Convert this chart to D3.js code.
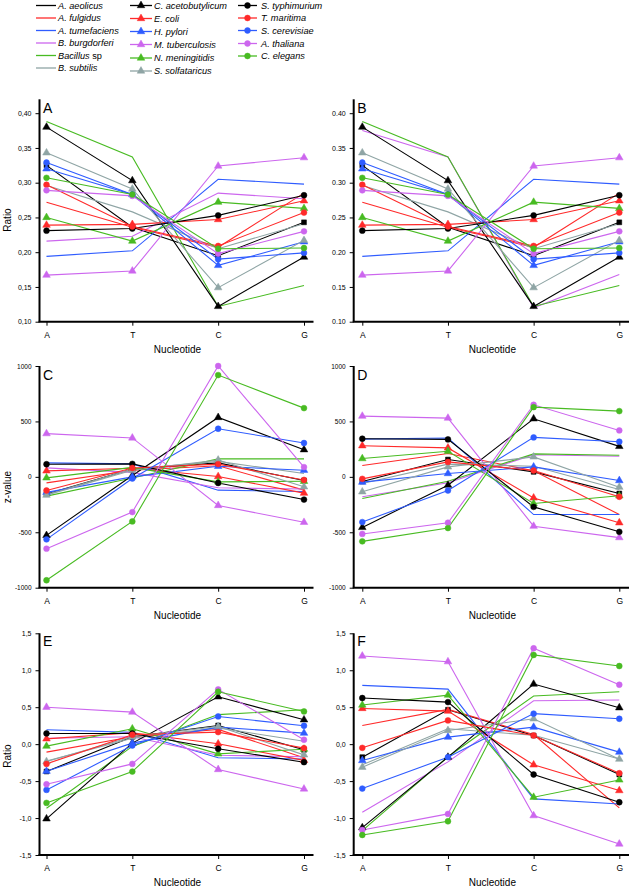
<!DOCTYPE html>
<html><head><meta charset="utf-8">
<script src="https://cdn.jsdelivr.net/npm/d3@7"></script>
<style>
body{margin:0;background:#fff}
text{font-family:"Liberation Sans",Arial,Helvetica,sans-serif;fill:#000}
</style>
</head><body>
<svg id="chart" width="629" height="887"></svg>
<script>
// ---------------- data ----------------
const nucleotides = ["A", "T", "C", "G"];
const species = ["A. aeolicus","A. fulgidus","A. tumefaciens","B. burgdorferi","Bacillus sp","B. subtilis",
  "C. acetobutylicum","E. coli","H. pylori","M. tuberculosis","N. meningitidis","S. solfataricus",
  "S. typhimurium","T. maritima","S. cerevisiae","A. thaliana","C. elegans"];

// values per species, order A, T, C, G
const panelA = [
  [0.325,0.236,0.195,0.243],[0.272,0.236,0.207,0.285],[0.194,0.202,0.305,0.298],[0.216,0.223,0.285,0.277],
  [0.388,0.337,0.122,0.152],[0.296,0.258,0.205,0.241],[0.380,0.303,0.122,0.193],[0.239,0.240,0.247,0.274],
  [0.320,0.283,0.181,0.215],[0.167,0.173,0.324,0.336],[0.250,0.216,0.272,0.263],[0.343,0.291,0.149,0.217],
  [0.231,0.234,0.253,0.282],[0.297,0.237,0.209,0.257],[0.329,0.283,0.190,0.199],[0.289,0.281,0.198,0.230],
  [0.307,0.283,0.205,0.206]];
const panelB = [
  [0.325,0.236,0.195,0.243],[0.272,0.236,0.207,0.285],[0.194,0.202,0.305,0.298],[0.375,0.337,0.120,0.168],
  [0.388,0.337,0.122,0.152],[0.296,0.258,0.205,0.241],[0.380,0.303,0.122,0.193],[0.239,0.240,0.247,0.274],
  [0.320,0.283,0.181,0.215],[0.167,0.173,0.324,0.336],[0.250,0.216,0.272,0.263],[0.343,0.291,0.149,0.217],
  [0.231,0.234,0.253,0.282],[0.297,0.237,0.209,0.257],[0.329,0.283,0.190,0.199],[0.289,0.281,0.198,0.230],
  [0.307,0.283,0.205,0.206]];
const panelC = [
  [-156,70,126,-33],[-54,60,100,-120],[126,117,-120,-132],[81,40,-99,-110],
  [-174,-10,162,162],[-160,70,140,30],[-528,12,536,245],[54,78,3,-147],
  [-140,0,95,60],[390,351,-258,-410],[-9,85,-45,-40],[-165,60,152,-90],
  [114,117,-55,-205],[-123,80,115,-28],[-564,-15,434,305],[-648,-318,1000,88],
  [-933,-402,918,620]];
const panelD = [
  [-42,156,45,-150],[102,210,55,-340],[340,350,-340,-340],[-180,-54,200,186],
  [-195,-39,207,195],[-60,115,96,-114],[-456,-75,524,275],[281,261,-190,-414],
  [-48,30,90,-33],[548,530,-445,-548],[165,231,-240,-171],[-135,90,180,-93],
  [344,338,-271,-496],[-18,135,57,-180],[-408,-123,356,317],[-515,-414,650,419],
  [-582,-462,629,593]];
const panelE = [
  [-0.37,0.10,0.253,-0.077],[-0.108,0.10,0.20,-0.185],[0.194,0.16,-0.185,-0.20],[0.08,0.10,-0.15,-0.17],
  [-0.868,-0.03,0.40,0.465],[-0.23,0.08,0.22,0.04],[-1.01,0.014,0.641,0.33],[0.072,0.154,0.005,-0.22],
  [-0.366,0.014,0.23,0.149],[0.50,0.434,-0.343,-0.606],[-0.027,0.208,-0.131,-0.068],[-0.235,0.10,0.24,-0.145],
  [0.145,0.145,-0.063,-0.244],[-0.267,0.127,0.163,-0.054],[-0.619,-0.018,0.375,0.249],[-0.542,-0.267,0.741,0.059],
  [-0.795,-0.371,0.709,0.443]];
const panelF = [
  [-0.176,0.465,0.117,-0.411],[0.253,0.47,0.13,-0.863],[0.795,0.745,-0.741,-0.81],[-0.922,-0.24,0.587,0.597],
  [-1.17,-0.17,0.651,0.709],[-0.28,0.208,0.12,-0.2],[-1.13,-0.176,0.813,0.493],[0.483,0.447,-0.28,-0.628],
  [-0.221,0.095,0.23,-0.108],[1.193,1.116,-0.967,-1.351],[0.529,0.664,-0.718,-0.484],[-0.312,0.185,0.343,-0.203],
  [0.624,0.569,-0.411,-0.786],[-0.05,0.321,0.117,-0.393],[-0.601,-0.176,0.413,0.343],[-1.161,-0.944,1.297,0.804],
  [-1.229,-1.044,1.207,1.057]];

const ticksRatioTop = [0.10,0.15,0.20,0.25,0.30,0.35,0.40];
const tickLabelsA = ["0,10","0,15","0,20","0,25","0,30","0,35","0,40"];
const tickLabelsB = ["0.10","0.15","0.20","0.25","0.30","0.35","0.40"];
const ticksZ = [-1000,-500,0,500,1000];
const tickLabelsZ = ["-1000","-500","0","500","1000"];
const ticksRatioBottom = [-1.5,-1.0,-0.5,0.0,0.5,1.0,1.5];
const tickLabelsEF = ["-1,5","-1,0","-0,5","0,0","0,5","1,0","1,5"];

// ---------------- styles ----------------
const palette = {black:"#000000", red:"#ff2a2a", blue:"#2f5cff", violet:"#cc66ee", green:"#48bb22", gray:"#8fa5a5"};
const speciesColor = ["black","red","blue","violet","green","gray","black","red","blue","violet","green","gray",
  "black","red","blue","violet","green"].map(c => palette[c]);
const speciesMarker = ["square","none","none","none","none","none","triangle","triangle","triangle","triangle","triangle","triangle",
  "circle","circle","circle","circle","circle"];
const legendMarker = ["none","none","none","none","none","none","triangle","triangle","triangle","triangle","triangle","triangle",
  "circle","circle","circle","circle","circle"];

const svg = d3.select("#chart");
const symbolType = {triangle: d3.symbolTriangle, circle: d3.symbolCircle, square: d3.symbolSquare};
const symbolSize = {triangle: 25, circle: 27, square: 24};

function drawMarker(g, kind, x, y, color) {
  if (kind === "none") return;
  g.append("path")
    .attr("d", d3.symbol().type(symbolType[kind]).size(symbolSize[kind])())
    .attr("transform", `translate(${x},${y})`)
    .attr("fill", color).attr("stroke", color).attr("stroke-width", 0.5);
}

// ---------------- panels ----------------
const leftGeom = {axisX: 39.5, first: 46.5, last: 304, end: 313.5};
const rightGeom = {axisX: 353.7, first: 362.3, last: 619.3, end: 629};
const panels = [
  {data: panelA, geom: leftGeom, dom: [0.10, 0.42], rng: [321.7, 99.3], ticks: ticksRatioTop, labels: tickLabelsA, letter: "A", ylab: "Ratio", ylabY: 220, tickFont: 7},
  {data: panelB, geom: rightGeom, dom: [0.10, 0.42], rng: [321.7, 99.3], ticks: ticksRatioTop, labels: tickLabelsB, letter: "B", ylab: null, tickFont: 7},
  {data: panelC, geom: leftGeom, dom: [-1000, 1000], rng: [587.7, 366], ticks: ticksZ, labels: tickLabelsZ, letter: "C", ylab: "z-value", ylabY: 487, tickFont: 6.5},
  {data: panelD, geom: rightGeom, dom: [-1000, 1000], rng: [587.7, 366], ticks: ticksZ, labels: tickLabelsZ, letter: "D", ylab: null, tickFont: 6.5},
  {data: panelE, geom: leftGeom, dom: [-1.5, 1.5], rng: [855, 633.3], ticks: ticksRatioBottom, labels: tickLabelsEF, letter: "E", ylab: "Ratio", ylabY: 756, tickFont: 7},
  {data: panelF, geom: rightGeom, dom: [-1.5, 1.5], rng: [855, 633.3], ticks: ticksRatioBottom, labels: tickLabelsEF, letter: "F", ylab: null, tickFont: 7}
];

panels.forEach(p => {
  const g = svg.append("g");
  const gm = p.geom;
  const x = d3.scalePoint().domain(nucleotides).range([gm.first, gm.last]);
  const y = d3.scaleLinear().domain(p.dom).range(p.rng);

  // lines
  const line = d3.line().x((d, i) => x(nucleotides[i])).y(d => y(d));
  p.data.forEach((vals, si) => {
    g.append("path").attr("d", line(vals)).attr("fill", "none")
      .attr("stroke", speciesColor[si]).attr("stroke-width", 1.1);
  });
  p.data.forEach((vals, si) => {
    vals.forEach((v, i) => drawMarker(g, speciesMarker[si], x(nucleotides[i]), y(v), speciesColor[si]));
  });

  // y axis
  const yAxis = d3.axisLeft(y).tickValues(p.ticks).tickFormat((d, i) => p.labels[i]).tickSize(4).tickSizeOuter(0).tickPadding(4);
  const ya = g.append("g").attr("transform", `translate(${gm.axisX},0)`).call(yAxis);
  ya.select(".domain").attr("d", `M0,${p.rng[1]}V${p.rng[0]}`).attr("stroke-width", 2);
  ya.selectAll(".tick line").attr("stroke-width", 1);
  ya.selectAll("text").style("font-size", p.tickFont + "px").style("font-family", "'Liberation Sans',Arial,sans-serif");

  // x axis
  const xAxis = d3.axisBottom(x).tickSize(4).tickSizeOuter(0).tickPadding(6);
  const xa = g.append("g").attr("transform", `translate(0,${p.rng[0]})`).call(xAxis);
  xa.select(".domain").attr("d", `M${gm.axisX - 1},0H${gm.end}`).attr("stroke-width", 2);
  xa.selectAll("text").style("font-size", "8.5px").style("font-family", "'Liberation Sans',Arial,sans-serif").attr("fill", "#222");

  // x title
  g.append("text").attr("x", (gm.axisX + gm.end) / 2 + 1).attr("y", p.rng[0] + 31)
    .attr("text-anchor", "middle").style("font-size", "10px").text("Nucleotide");
  // y title
  if (p.ylab) {
    g.append("text").attr("transform", `translate(11,${p.ylabY}) rotate(-90)`)
      .attr("text-anchor", "middle").style("font-size", "10px").text(p.ylab);
  }
  // letter
  const letterY = p.letter === "A" || p.letter === "B" ? 113 : (p.letter === "C" || p.letter === "D" ? 379.5 : 645.5);
  g.append("text").attr("x", gm.axisX + 3.5).attr("y", letterY).style("font-size", "14px").text(p.letter);
});

// ---------------- legend ----------------
const legendCols = [
  {lineX: [36, 56], textX: 58, ys: [5.5, 18, 30.5, 43, 55.5, 68]},
  {lineX: [130, 152], textX: 154, ys: [5.5, 18.5, 31.5, 44.5, 58, 71]},
  {lineX: [238, 257], textX: 261, ys: [5.5, 18, 30.5, 43.5, 56]}
];
const lg = svg.append("g");
species.forEach((name, i) => {
  const col = i < 6 ? 0 : (i < 12 ? 1 : 2);
  const row = i < 6 ? i : (i < 12 ? i - 6 : i - 12);
  const c = legendCols[col];
  const yy = c.ys[row];
  lg.append("line").attr("x1", c.lineX[0]).attr("x2", c.lineX[1]).attr("y1", yy).attr("y2", yy)
    .attr("stroke", speciesColor[i]).attr("stroke-width", 1.3);
  drawMarker(lg, legendMarker[i], (c.lineX[0] + c.lineX[1]) / 2, yy, speciesColor[i]);
  const t = lg.append("text").attr("x", c.textX).attr("y", yy + 3.3).style("font-size", "9.2px");
  if (name === "Bacillus sp") {
    t.append("tspan").style("font-style", "italic").text("Bacillus");
    t.append("tspan").text(" sp");
  } else {
    t.style("font-style", "italic").text(name);
  }
});
</script>
</body></html>
